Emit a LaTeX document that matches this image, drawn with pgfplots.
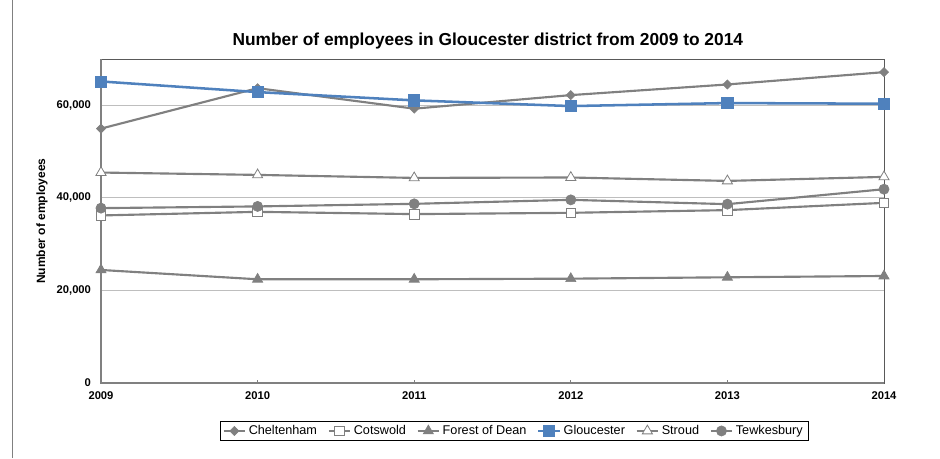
\documentclass[border=0pt]{standalone}
\usepackage{pgfplots}
\pgfplotsset{compat=1.18}
\usepackage{fontspec}
\setmainfont{Liberation Sans}

\definecolor{serGray}{RGB}{128,128,128}
\definecolor{serBlue}{RGB}{79,129,189}
\definecolor{gridGray}{RGB}{190,190,190}
\definecolor{frameGray}{RGB}{89,89,89}

\begin{document}
\begin{tikzpicture}
% page = 940 x 458 px at 0.75pt per px
\useasboundingbox (0,0) rectangle (705pt,343.5pt);
\draw[serGray, line width=0.75pt] (9pt,0) -- (9pt,343.5pt);
\begin{axis}[
  scale only axis,
  width=587.25pt, height=243pt,
  at={(75.75pt,56.25pt)}, anchor=south west,
  xmin=2009, xmax=2014,
  ymin=0, ymax=70000,
  xtick={2009,2010,2011,2012,2013,2014},
  ytick={0,20000,40000,60000},
  scaled y ticks=false,
  ymajorgrids,
  grid style={gridGray, line width=0.75pt},
  axis line style={frameGray, line width=0.6pt},
  x tick style={serGray, line width=0.5pt},
  major tick length=2.5pt,
  ytick style={draw=none},
  xtick pos=bottom, xtick align=inside,
  /pgf/number format/assume math mode=true,
  tick label style={font=\fontsize{8.4}{10}\selectfont\bfseries},
  x tick label style={/pgf/number format/1000 sep={}, yshift=-3pt},
  y tick label style={/pgf/number format/1000 sep={,}, xshift=-4pt},
  title={Number of employees in Gloucester district from 2009 to 2014},
  title style={font=\fontsize{13}{15}\selectfont\bfseries,
    at={(axis description cs:0.494,1)}, anchor=base, inner sep=0pt, yshift=4pt},
  ylabel={Number of employees},
  ylabel style={font=\fontsize{9}{11}\selectfont\bfseries,
    at={(axis description cs:-0.0753,0.5)}, anchor=center},
  clip=false,
  legend columns=6,
  legend style={at={(axis description cs:0.5275,-0.148)}, anchor=center,
    draw=black, line width=0.5pt, font=\fontsize{9.5}{11}\selectfont,
    /tikz/every even column/.append style={column sep=6pt},
    inner xsep=2pt, inner ysep=1pt},
  legend image code/.code={
    \draw[mark repeat=2,mark phase=2] plot coordinates {(0pt,0pt)(8pt,0pt)(16pt,0pt)};},
]
\addplot[serGray, line width=1.6pt, mark=square*, mark size=2.4pt,
  mark options={rotate=45, fill=serGray, draw=serGray, line width=0.5pt}]
  coordinates {(2009,54960)(2010,63700)(2011,59270)(2012,62200)(2013,64500)(2014,67160)};
\addlegendentry{Cheltenham}
\addplot[serGray, line width=1.6pt, mark=square*, mark size=3.6pt,
  mark options={fill=white, draw=serGray, line width=0.6pt}]
  coordinates {(2009,36200)(2010,36980)(2011,36490)(2012,36770)(2013,37350)(2014,38920)};
\addlegendentry{Cotswold}
\addplot[serGray, line width=1.6pt, mark=triangle*, mark size=4.4pt,
  mark options={fill=serGray, draw=serGray, line width=0.5pt}]
  coordinates {(2009,24420)(2010,22410)(2011,22410)(2012,22540)(2013,22840)(2014,23120)};
\addlegendentry{Forest of Dean}
\addplot[serBlue, line width=1.9pt, mark=square*, mark size=4.2pt,
  mark options={fill=serBlue, draw=serBlue, line width=0.5pt}]
  coordinates {(2009,65150)(2010,62850)(2011,61060)(2012,59830)(2013,60480)(2014,60340)};
\addlegendentry{Gloucester}
\addplot[serGray, line width=1.6pt, mark=triangle*, mark size=4.4pt,
  mark options={fill=white, draw=serGray, line width=0.6pt}]
  coordinates {(2009,45470)(2010,44960)(2011,44310)(2012,44400)(2013,43660)(2014,44530)};
\addlegendentry{Stroud}
\addplot[serGray, line width=1.6pt, mark=*, mark size=3.8pt,
  mark options={fill=serGray, draw=serGray, line width=0.5pt}]
  coordinates {(2009,37780)(2010,38150)(2011,38710)(2012,39570)(2013,38640)(2014,41870)};
\addlegendentry{Tewkesbury}
\draw[serGray, line width=1.5pt] (rel axis cs:0,1) -- (rel axis cs:0,0) -- (rel axis cs:1,0);
\end{axis}
\end{tikzpicture}
\end{document}
